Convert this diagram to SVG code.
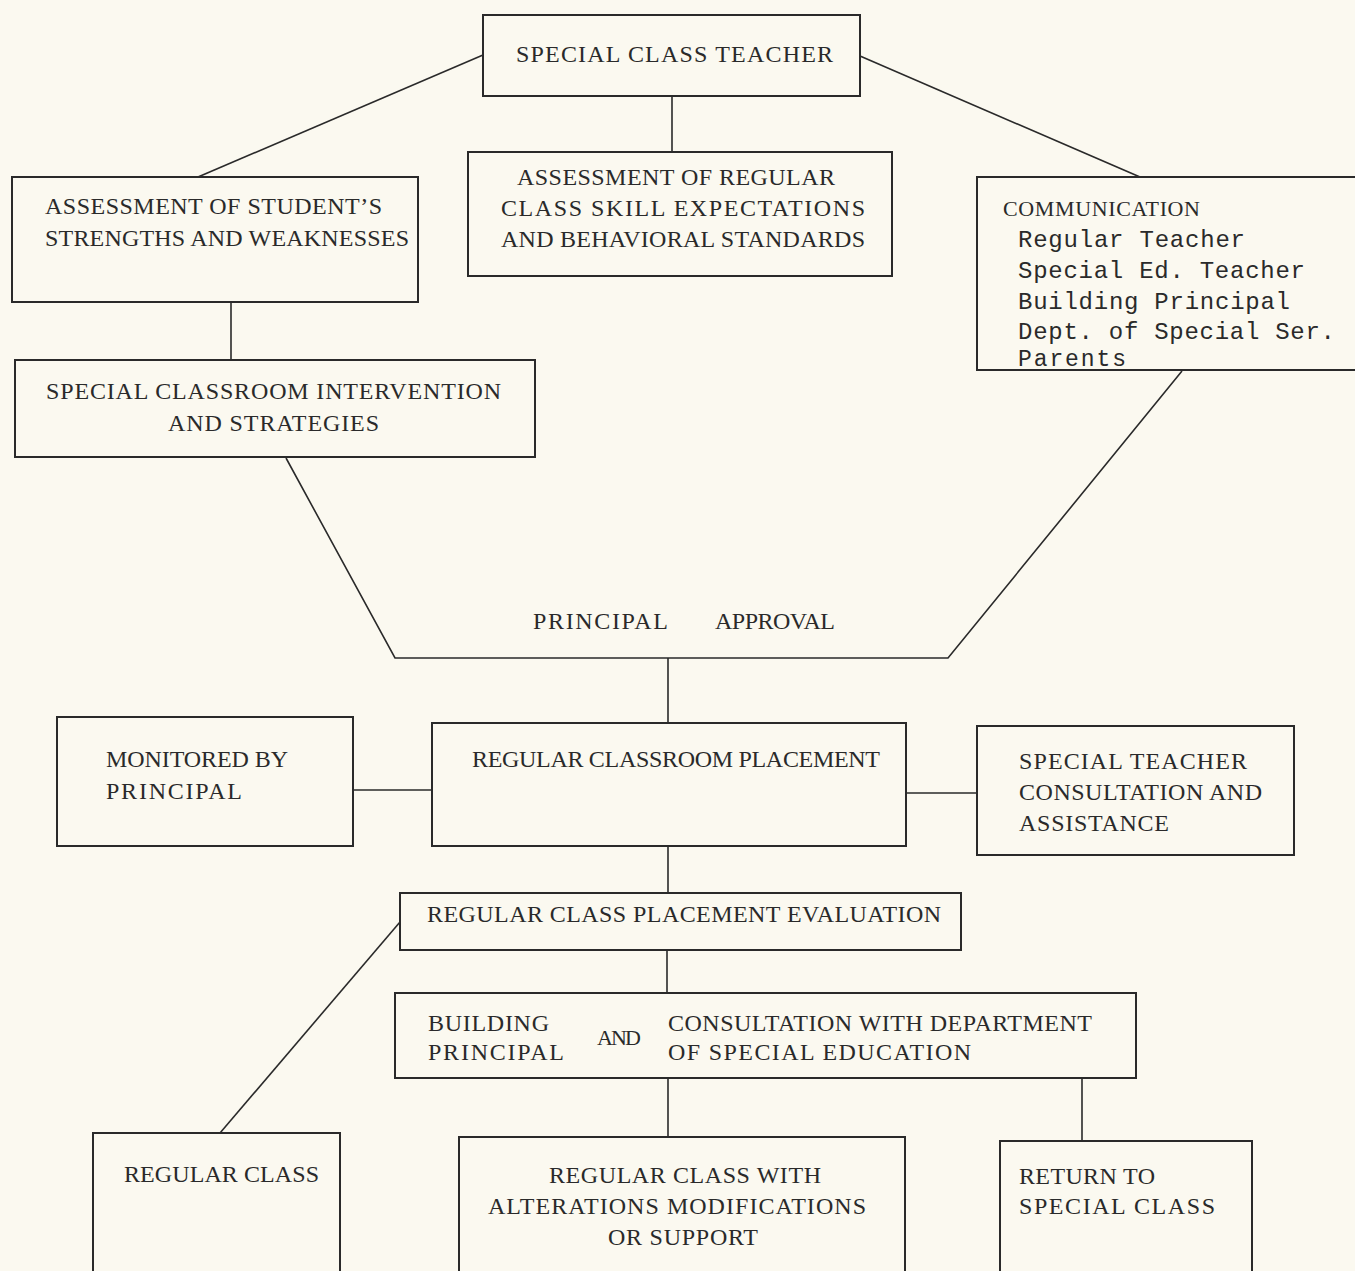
<svg xmlns="http://www.w3.org/2000/svg" width="1355" height="1271" viewBox="0 0 1355 1271">
<style>
.bg{fill:#fbf9f0}
.box{fill:none;stroke:#2a2a2a;stroke-width:2}
.con{fill:none;stroke:#2a2a2a;stroke-width:1.6}
text{font-family:"Liberation Serif","DejaVu Serif",serif;font-size:24px;fill:#2a2a2a}
text.mc{font-family:"Liberation Mono","DejaVu Sans Mono",monospace;font-size:24px}
</style>
<rect class="bg" x="0" y="0" width="1355" height="1271"/>
<g id="connectors">
<line class="con" x1="483" y1="55" x2="198" y2="177"/>
<line class="con" x1="860" y1="56" x2="1140" y2="177"/>
<line class="con" x1="672" y1="96" x2="672" y2="152"/>
<line class="con" x1="231" y1="302" x2="231" y2="360"/>
<polyline class="con" points="286,458 395,658 948,658 1182,371"/>
<line class="con" x1="668" y1="658" x2="668" y2="723"/>
<line class="con" x1="353" y1="790" x2="432" y2="790"/>
<line class="con" x1="906" y1="793" x2="977" y2="793"/>
<line class="con" x1="668" y1="846" x2="668" y2="893"/>
<line class="con" x1="667" y1="950" x2="667" y2="993"/>
<line class="con" x1="400" y1="922" x2="220" y2="1133"/>
<line class="con" x1="668" y1="1078" x2="668" y2="1137"/>
<line class="con" x1="1082" y1="1078" x2="1082" y2="1141"/>
</g>
<g id="special-class-teacher">
<rect class="box" x="483" y="15" width="377" height="81"/>
<text x="516" y="62" textLength="317" lengthAdjust="spacing">SPECIAL CLASS TEACHER</text>
</g>
<g id="assessment-students">
<rect class="box" x="12" y="177" width="406" height="125"/>
<text x="45" y="214" textLength="337" lengthAdjust="spacing">ASSESSMENT OF STUDENT’S</text>
<text x="45" y="246" textLength="364" lengthAdjust="spacing">STRENGTHS AND WEAKNESSES</text>
</g>
<g id="assessment-regular">
<rect class="box" x="468" y="152" width="424" height="124"/>
<text x="517" y="185" textLength="318" lengthAdjust="spacing">ASSESSMENT OF REGULAR</text>
<text x="501" y="216" textLength="364" lengthAdjust="spacing">CLASS SKILL EXPECTATIONS</text>
<text x="501" y="247" textLength="364" lengthAdjust="spacing">AND BEHAVIORAL STANDARDS</text>
</g>
<g id="communication">
<rect class="box" x="977" y="177" width="380" height="193"/>
<text x="1003" y="216" textLength="197" lengthAdjust="spacing" style="font-size:22px">COMMUNICATION</text>
<text class="mc" x="1018" y="247" textLength="227" lengthAdjust="spacing">Regular Teacher</text>
<text class="mc" x="1018" y="278" textLength="287" lengthAdjust="spacing">Special Ed. Teacher</text>
<text class="mc" x="1018" y="309" textLength="272" lengthAdjust="spacing">Building Principal</text>
<text class="mc" x="1018" y="339" textLength="317" lengthAdjust="spacing">Dept. of Special Ser.</text>
<text class="mc" x="1018" y="366" textLength="108" lengthAdjust="spacing" style="font-size:23px">Parents</text>
</g>
<g id="intervention">
<rect class="box" x="15" y="360" width="520" height="97"/>
<text x="46" y="399" textLength="455" lengthAdjust="spacing">SPECIAL CLASSROOM INTERVENTION</text>
<text x="168" y="431" textLength="211" lengthAdjust="spacing">AND STRATEGIES</text>
</g>
<g id="principal-approval">
<text x="533" y="629" textLength="135" lengthAdjust="spacing">PRINCIPAL</text>
<text x="715" y="629" textLength="120" lengthAdjust="spacing">APPROVAL</text>
</g>
<g id="monitored">
<rect class="box" x="57" y="717" width="296" height="129"/>
<text x="106" y="767" textLength="182" lengthAdjust="spacing">MONITORED BY</text>
<text x="106" y="799" textLength="136" lengthAdjust="spacing">PRINCIPAL</text>
</g>
<g id="regular-placement">
<rect class="box" x="432" y="723" width="474" height="123"/>
<text x="472" y="767" textLength="408" lengthAdjust="spacing">REGULAR CLASSROOM PLACEMENT</text>
</g>
<g id="special-teacher-consultation">
<rect class="box" x="977" y="726" width="317" height="129"/>
<text x="1019" y="769" textLength="228" lengthAdjust="spacing">SPECIAL TEACHER</text>
<text x="1019" y="800" textLength="243" lengthAdjust="spacing">CONSULTATION AND</text>
<text x="1019" y="831" textLength="150" lengthAdjust="spacing">ASSISTANCE</text>
</g>
<g id="placement-evaluation">
<rect class="box" x="400" y="893" width="561" height="57"/>
<text x="427" y="922" textLength="514" lengthAdjust="spacing">REGULAR CLASS PLACEMENT EVALUATION</text>
</g>
<g id="building-principal">
<rect class="box" x="395" y="993" width="741" height="85"/>
<text x="428" y="1031" textLength="121" lengthAdjust="spacing">BUILDING</text>
<text x="428" y="1060" textLength="136" lengthAdjust="spacing">PRINCIPAL</text>
<text x="597" y="1045" textLength="44" lengthAdjust="spacing" style="font-size:22px">AND</text>
<text x="668" y="1031" textLength="424" lengthAdjust="spacing">CONSULTATION WITH DEPARTMENT</text>
<text x="668" y="1060" textLength="303" lengthAdjust="spacing">OF SPECIAL EDUCATION</text>
</g>
<g id="regular-class">
<rect class="box" x="93" y="1133" width="247" height="150"/>
<text x="124" y="1182" textLength="195" lengthAdjust="spacing">REGULAR CLASS</text>
</g>
<g id="regular-class-alterations">
<rect class="box" x="459" y="1137" width="446" height="146"/>
<text x="549" y="1183" textLength="272" lengthAdjust="spacing">REGULAR CLASS WITH</text>
<text x="488" y="1214" textLength="378" lengthAdjust="spacing">ALTERATIONS MODIFICATIONS</text>
<text x="608" y="1245" textLength="150" lengthAdjust="spacing">OR SUPPORT</text>
</g>
<g id="return-special">
<rect class="box" x="1000" y="1141" width="252" height="142"/>
<text x="1019" y="1184" textLength="136" lengthAdjust="spacing">RETURN TO</text>
<text x="1019" y="1214" textLength="196" lengthAdjust="spacing">SPECIAL CLASS</text>
</g>
</svg>
